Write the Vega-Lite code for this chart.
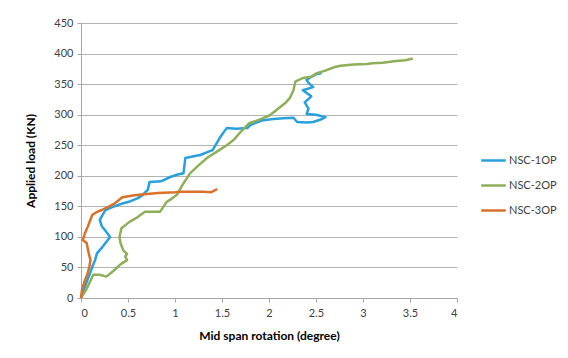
{
  "$schema": "https://vega.github.io/schema/vega-lite/v6.json",
  "autosize": "none",
  "width": 376,
  "height": 275,
  "padding": {"left": 81, "top": 23, "right": 111, "bottom": 60},
  "background": "white",
  "config": {
    "view": {"stroke": null},
    "font": "Lato",
    "axis": {"labelFont": "Lato", "titleFont": "Lato", "labelColor": "#404040", "titleColor": "#000000", "labelFontSize": 11, "titleFontSize": 12, "titleFontWeight": "bold"}
  },
  "data": {
    "values": [
      {"s": "NSC-1OP", "i": 0, "x": 0, "y": 0},
      {"s": "NSC-1OP", "i": 1, "x": 0.02, "y": 10},
      {"s": "NSC-1OP", "i": 2, "x": 0.04, "y": 18},
      {"s": "NSC-1OP", "i": 3, "x": 0.07, "y": 30},
      {"s": "NSC-1OP", "i": 4, "x": 0.1, "y": 42},
      {"s": "NSC-1OP", "i": 5, "x": 0.12, "y": 51},
      {"s": "NSC-1OP", "i": 6, "x": 0.15, "y": 62},
      {"s": "NSC-1OP", "i": 7, "x": 0.17, "y": 73},
      {"s": "NSC-1OP", "i": 8, "x": 0.22, "y": 82},
      {"s": "NSC-1OP", "i": 9, "x": 0.26, "y": 90},
      {"s": "NSC-1OP", "i": 10, "x": 0.31, "y": 100},
      {"s": "NSC-1OP", "i": 11, "x": 0.27, "y": 108},
      {"s": "NSC-1OP", "i": 12, "x": 0.22, "y": 118},
      {"s": "NSC-1OP", "i": 13, "x": 0.2, "y": 128},
      {"s": "NSC-1OP", "i": 14, "x": 0.23, "y": 136},
      {"s": "NSC-1OP", "i": 15, "x": 0.26, "y": 144},
      {"s": "NSC-1OP", "i": 16, "x": 0.32, "y": 148},
      {"s": "NSC-1OP", "i": 17, "x": 0.39, "y": 152},
      {"s": "NSC-1OP", "i": 18, "x": 0.45, "y": 155},
      {"s": "NSC-1OP", "i": 19, "x": 0.52, "y": 158},
      {"s": "NSC-1OP", "i": 20, "x": 0.6, "y": 163},
      {"s": "NSC-1OP", "i": 21, "x": 0.65, "y": 168},
      {"s": "NSC-1OP", "i": 22, "x": 0.71, "y": 177},
      {"s": "NSC-1OP", "i": 23, "x": 0.73, "y": 190},
      {"s": "NSC-1OP", "i": 24, "x": 0.85, "y": 191},
      {"s": "NSC-1OP", "i": 25, "x": 0.95, "y": 198},
      {"s": "NSC-1OP", "i": 26, "x": 1.03, "y": 202},
      {"s": "NSC-1OP", "i": 27, "x": 1.09, "y": 204},
      {"s": "NSC-1OP", "i": 28, "x": 1.11, "y": 229},
      {"s": "NSC-1OP", "i": 29, "x": 1.2, "y": 232},
      {"s": "NSC-1OP", "i": 30, "x": 1.27, "y": 234},
      {"s": "NSC-1OP", "i": 31, "x": 1.33, "y": 238},
      {"s": "NSC-1OP", "i": 32, "x": 1.4, "y": 242},
      {"s": "NSC-1OP", "i": 33, "x": 1.45, "y": 255},
      {"s": "NSC-1OP", "i": 34, "x": 1.48, "y": 263},
      {"s": "NSC-1OP", "i": 35, "x": 1.55, "y": 278},
      {"s": "NSC-1OP", "i": 36, "x": 1.65, "y": 277},
      {"s": "NSC-1OP", "i": 37, "x": 1.77, "y": 278},
      {"s": "NSC-1OP", "i": 38, "x": 1.8, "y": 283},
      {"s": "NSC-1OP", "i": 39, "x": 1.88, "y": 288},
      {"s": "NSC-1OP", "i": 40, "x": 1.94, "y": 291},
      {"s": "NSC-1OP", "i": 41, "x": 2.05, "y": 293},
      {"s": "NSC-1OP", "i": 42, "x": 2.15, "y": 294},
      {"s": "NSC-1OP", "i": 43, "x": 2.26, "y": 295},
      {"s": "NSC-1OP", "i": 44, "x": 2.3, "y": 288},
      {"s": "NSC-1OP", "i": 45, "x": 2.4, "y": 287},
      {"s": "NSC-1OP", "i": 46, "x": 2.47, "y": 288},
      {"s": "NSC-1OP", "i": 47, "x": 2.55, "y": 292},
      {"s": "NSC-1OP", "i": 48, "x": 2.6, "y": 296},
      {"s": "NSC-1OP", "i": 49, "x": 2.5, "y": 300},
      {"s": "NSC-1OP", "i": 50, "x": 2.4, "y": 301},
      {"s": "NSC-1OP", "i": 51, "x": 2.42, "y": 310},
      {"s": "NSC-1OP", "i": 52, "x": 2.38, "y": 320},
      {"s": "NSC-1OP", "i": 53, "x": 2.45, "y": 330},
      {"s": "NSC-1OP", "i": 54, "x": 2.36, "y": 340},
      {"s": "NSC-1OP", "i": 55, "x": 2.47, "y": 345},
      {"s": "NSC-1OP", "i": 56, "x": 2.42, "y": 352},
      {"s": "NSC-1OP", "i": 57, "x": 2.4, "y": 357},
      {"s": "NSC-1OP", "i": 58, "x": 2.45, "y": 362},
      {"s": "NSC-1OP", "i": 59, "x": 2.5, "y": 366},
      {"s": "NSC-1OP", "i": 60, "x": 2.56, "y": 368},

      {"s": "NSC-2OP", "i": 0, "x": 0, "y": 0},
      {"s": "NSC-2OP", "i": 1, "x": 0.05, "y": 12},
      {"s": "NSC-2OP", "i": 2, "x": 0.1, "y": 28},
      {"s": "NSC-2OP", "i": 3, "x": 0.13, "y": 38},
      {"s": "NSC-2OP", "i": 4, "x": 0.2, "y": 38},
      {"s": "NSC-2OP", "i": 5, "x": 0.27, "y": 35},
      {"s": "NSC-2OP", "i": 6, "x": 0.35, "y": 45},
      {"s": "NSC-2OP", "i": 7, "x": 0.42, "y": 55},
      {"s": "NSC-2OP", "i": 8, "x": 0.49, "y": 62},
      {"s": "NSC-2OP", "i": 9, "x": 0.47, "y": 68},
      {"s": "NSC-2OP", "i": 10, "x": 0.49, "y": 72},
      {"s": "NSC-2OP", "i": 11, "x": 0.45, "y": 78},
      {"s": "NSC-2OP", "i": 12, "x": 0.42, "y": 90},
      {"s": "NSC-2OP", "i": 13, "x": 0.41, "y": 100},
      {"s": "NSC-2OP", "i": 14, "x": 0.43, "y": 114},
      {"s": "NSC-2OP", "i": 15, "x": 0.52, "y": 125},
      {"s": "NSC-2OP", "i": 16, "x": 0.6, "y": 132},
      {"s": "NSC-2OP", "i": 17, "x": 0.68, "y": 141},
      {"s": "NSC-2OP", "i": 18, "x": 0.76, "y": 141},
      {"s": "NSC-2OP", "i": 19, "x": 0.84, "y": 141},
      {"s": "NSC-2OP", "i": 20, "x": 0.88, "y": 150},
      {"s": "NSC-2OP", "i": 21, "x": 0.91, "y": 157},
      {"s": "NSC-2OP", "i": 22, "x": 0.97, "y": 163},
      {"s": "NSC-2OP", "i": 23, "x": 1.02, "y": 169},
      {"s": "NSC-2OP", "i": 24, "x": 1.08, "y": 185},
      {"s": "NSC-2OP", "i": 25, "x": 1.16, "y": 204},
      {"s": "NSC-2OP", "i": 26, "x": 1.25, "y": 217},
      {"s": "NSC-2OP", "i": 27, "x": 1.34, "y": 229},
      {"s": "NSC-2OP", "i": 28, "x": 1.45, "y": 240},
      {"s": "NSC-2OP", "i": 29, "x": 1.55, "y": 250},
      {"s": "NSC-2OP", "i": 30, "x": 1.62, "y": 258},
      {"s": "NSC-2OP", "i": 31, "x": 1.7, "y": 272},
      {"s": "NSC-2OP", "i": 32, "x": 1.79, "y": 286},
      {"s": "NSC-2OP", "i": 33, "x": 1.9, "y": 292},
      {"s": "NSC-2OP", "i": 34, "x": 2.01, "y": 299},
      {"s": "NSC-2OP", "i": 35, "x": 2.1, "y": 310},
      {"s": "NSC-2OP", "i": 36, "x": 2.18, "y": 320},
      {"s": "NSC-2OP", "i": 37, "x": 2.22, "y": 327},
      {"s": "NSC-2OP", "i": 38, "x": 2.26, "y": 340},
      {"s": "NSC-2OP", "i": 39, "x": 2.28, "y": 354},
      {"s": "NSC-2OP", "i": 40, "x": 2.36, "y": 360},
      {"s": "NSC-2OP", "i": 41, "x": 2.45, "y": 362},
      {"s": "NSC-2OP", "i": 42, "x": 2.51, "y": 368},
      {"s": "NSC-2OP", "i": 43, "x": 2.6, "y": 372},
      {"s": "NSC-2OP", "i": 44, "x": 2.7, "y": 378},
      {"s": "NSC-2OP", "i": 45, "x": 2.76, "y": 380},
      {"s": "NSC-2OP", "i": 46, "x": 2.9, "y": 382},
      {"s": "NSC-2OP", "i": 47, "x": 3.04, "y": 383},
      {"s": "NSC-2OP", "i": 48, "x": 3.1, "y": 384},
      {"s": "NSC-2OP", "i": 49, "x": 3.21, "y": 385},
      {"s": "NSC-2OP", "i": 50, "x": 3.35, "y": 388},
      {"s": "NSC-2OP", "i": 51, "x": 3.45, "y": 389},
      {"s": "NSC-2OP", "i": 52, "x": 3.53, "y": 392},

      {"s": "NSC-3OP", "i": 0, "x": 0, "y": 0},
      {"s": "NSC-3OP", "i": 1, "x": 0.01, "y": 13},
      {"s": "NSC-3OP", "i": 2, "x": 0.04, "y": 28},
      {"s": "NSC-3OP", "i": 3, "x": 0.07, "y": 40},
      {"s": "NSC-3OP", "i": 4, "x": 0.09, "y": 52},
      {"s": "NSC-3OP", "i": 5, "x": 0.1, "y": 62},
      {"s": "NSC-3OP", "i": 6, "x": 0.08, "y": 75},
      {"s": "NSC-3OP", "i": 7, "x": 0.06, "y": 90},
      {"s": "NSC-3OP", "i": 8, "x": 0.02, "y": 95},
      {"s": "NSC-3OP", "i": 9, "x": 0.04, "y": 105},
      {"s": "NSC-3OP", "i": 10, "x": 0.07, "y": 116},
      {"s": "NSC-3OP", "i": 11, "x": 0.1, "y": 128},
      {"s": "NSC-3OP", "i": 12, "x": 0.12, "y": 136},
      {"s": "NSC-3OP", "i": 13, "x": 0.16, "y": 140},
      {"s": "NSC-3OP", "i": 14, "x": 0.22, "y": 144},
      {"s": "NSC-3OP", "i": 15, "x": 0.3, "y": 150},
      {"s": "NSC-3OP", "i": 16, "x": 0.36, "y": 155},
      {"s": "NSC-3OP", "i": 17, "x": 0.44, "y": 165},
      {"s": "NSC-3OP", "i": 18, "x": 0.57, "y": 168},
      {"s": "NSC-3OP", "i": 19, "x": 0.7, "y": 170},
      {"s": "NSC-3OP", "i": 20, "x": 0.82, "y": 172},
      {"s": "NSC-3OP", "i": 21, "x": 1.0, "y": 173},
      {"s": "NSC-3OP", "i": 22, "x": 1.07, "y": 174},
      {"s": "NSC-3OP", "i": 23, "x": 1.2, "y": 174},
      {"s": "NSC-3OP", "i": 24, "x": 1.3, "y": 174},
      {"s": "NSC-3OP", "i": 25, "x": 1.38, "y": 173},
      {"s": "NSC-3OP", "i": 26, "x": 1.45, "y": 178}
    ]
  },
  "mark": {"type": "line", "strokeWidth": 2.5, "strokeJoin": "round"},
  "encoding": {
    "x": {
      "field": "x", "type": "quantitative",
      "scale": {"domain": [0, 4], "nice": false},
      "axis": {"values": [0, 0.5, 1, 1.5, 2, 2.5, 3, 3.5, 4], "format": "~g", "title": "Mid span rotation (degree)", "grid": false, "domainColor": "#a6a6a6", "tickColor": "#a6a6a6", "tickSize": 4, "labelPadding": 5, "titlePadding": 12}
    },
    "y": {
      "field": "y", "type": "quantitative",
      "scale": {"domain": [0, 450], "nice": false},
      "axis": {"values": [0, 50, 100, 150, 200, 250, 300, 350, 400, 450], "title": "Applied load (KN)", "grid": true, "gridColor": "#b3b3b3", "gridWidth": 1.2, "domainColor": "#a6a6a6", "tickColor": "#a6a6a6", "tickSize": 4, "labelPadding": 4, "titlePadding": 16}
    },
    "color": {
      "field": "s", "type": "nominal",
      "scale": {"domain": ["NSC-1OP", "NSC-2OP", "NSC-3OP"], "range": ["#27a0dc", "#8fae5a", "#d9712a"]},
      "legend": {"title": null, "orient": "none", "legendX": 399, "legendY": 124, "symbolType": "stroke", "symbolSize": 600, "symbolStrokeWidth": 2.5, "rowPadding": 6, "labelFontSize": 11, "labelFont": "Lato", "labelColor": "#404040", "labelOffset": 2}
    },
    "order": {"field": "i", "type": "quantitative"}
  }
}
